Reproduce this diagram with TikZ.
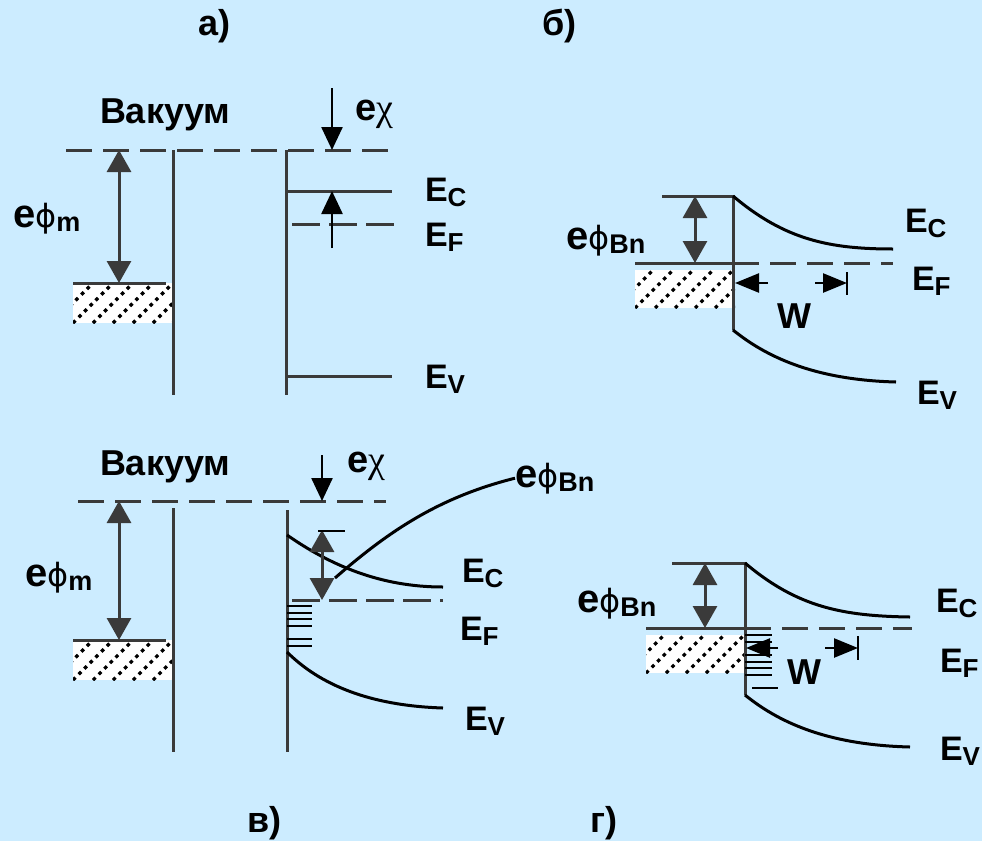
\documentclass[tikz,border=0pt]{standalone}
\usepackage{fontspec}
\setmainfont{Liberation Sans}
\newfontfamily\grk{DejaVu Sans}
\newfontfamily\grs{Liberation Serif}
\usetikzlibrary{arrows.meta}
\definecolor{bg}{RGB}{204,236,255}
\definecolor{ln}{RGB}{58,58,58}
\newcommand\lblE[1]{{\fontsize{34}{34}\selectfont\bfseries E\raisebox{-5pt}{\fontsize{26}{26}\selectfont #1}}}
\newcommand\lblphi[1]{{\fontsize{40}{40}\selectfont\bfseries e}{\grk\fontsize{32}{32}\selectfont ϕ}\raisebox{-4pt}{\fontsize{27}{27}\selectfont\bfseries #1}}
\newcommand\lblchi{{\fontsize{38}{38}\selectfont\bfseries e}{\grs\fontsize{38}{38}\selectfont χ}}
\newcommand\bigf{\fontsize{36}{36}\selectfont\bfseries}
\newcommand\hatchbox[4]{%
  \begin{scope}
    \clip (#1,#2) rectangle (#3,#4);
    \fill[white] (#1,#2) rectangle (#3,#4);
    \foreach \k in {-60,-40,...,120}
      \draw[black,line width=3.2pt,dash pattern=on 3.5pt off 4.5pt] (#1+\k,#4) -- ++(55,-55);
  \end{scope}}
\tikzset{
  lbl/.style={anchor=base west,inner sep=0pt,outer sep=0pt},
  solidln/.style={ln,line width=3pt},
  curveln/.style={black,line width=3pt},
  dashln/.style={ln,line width=3pt,dash pattern=on 26pt off 11pt},
  dblarrow/.style={ln,line width=3pt,{Triangle[width=24pt,length=22pt]}-{Triangle[width=24pt,length=22pt]}},
  chiarrow/.style={black,line width=2.5pt,-{Triangle[width=21pt,length=23pt]}},
  warrow/.style={black,line width=2.5pt,-{Triangle[width=19pt,length=24pt]}},
}
\begin{document}
\begin{tikzpicture}[x=1pt,y=-1pt]
\fill[bg] (0,0) rectangle (982,841);
\useasboundingbox (0,0) rectangle (982,841);
% ---------- panel a ----------
\node[lbl] (la) at (198,35) {\bigf а)};
\node[lbl] (vaca) at (100,123) {\bigf Вакуум};
\node[lbl] (chia) at (355,120) {\lblchi};
\node[lbl] (phia) at (13,227) {\lblphi{m}};
\node[lbl] (eca) at (425,201) {\lblE{C}};
\node[lbl] (efa) at (425,246) {\lblE{F}};
\node[lbl] (eva) at (425,388) {\lblE{V}};
\hatchbox{73}{283}{173}{323}
\coordinate (a-vl) at (66,150); \coordinate (a-vr) at (390,150);
\coordinate (a-mt) at (173,150); \coordinate (a-mb) at (173,395);
\coordinate (a-st) at (286,150); \coordinate (a-sb) at (286,395);
\coordinate (a-cl) at (286,191); \coordinate (a-cr) at (392,191);
\coordinate (a-fl) at (292,224); \coordinate (a-fr) at (397,224);
\coordinate (a-vbl) at (286,376); \coordinate (a-vbr) at (392,376);
\coordinate (a-ml) at (73,283); \coordinate (a-mr) at (166,283);
\draw[dashln] (a-vl) -- (a-vr);
\draw[solidln] (a-mt) -- (a-mb);
\draw[solidln] (a-st) -- (a-sb);
\draw[solidln] (a-cl) -- (a-cr);
\draw[dashln,dash pattern=on 28pt off 9pt] (a-fl) -- (a-fr);
\draw[solidln] (a-vbl) -- (a-vbr);
\draw[solidln] (a-ml) -- (a-mr);
\coordinate (a-p1) at (119,150); \coordinate (a-p2) at (119,283);
\draw[dblarrow] (a-p1) -- (a-p2);
\coordinate (a-x1) at (332,88); \coordinate (a-x2) at (332,150);
\draw[chiarrow] (a-x1) -- (a-x2);
\coordinate (a-y1) at (332,248); \coordinate (a-y2) at (332,191);
\draw[chiarrow] (a-y1) -- (a-y2);
% ---------- panel b ----------
\node[lbl] (lb) at (542,35) {\bigf б)};
\node[lbl] (phib) at (566,249) {\lblphi{Bn}};
\node[lbl] (ecb) at (905,232) {\lblE{C}};
\node[lbl] (efb) at (912,290) {\lblE{F}};
\node[lbl] (evb) at (917,404) {\lblE{V}};
\node[lbl] (wb) at (777,328) {\bigf W};
\hatchbox{635}{270}{735}{308}
\coordinate (b-tl) at (662,196); \coordinate (b-tr) at (733,196);
\coordinate (b-bot) at (733,330);
\coordinate (b-ce) at (893,249); \coordinate (b-ve) at (896,382);
\coordinate (b-fl) at (635,263); \coordinate (b-fm) at (733,263); \coordinate (b-fr) at (893,263);
\draw[solidln] (b-tl) -- (b-tr) -- (b-bot);
\draw[curveln] (b-tr) .. controls (785,240) and (830,249) .. (b-ce);
\draw[curveln] (b-bot) .. controls (770,360) and (820,380) .. (b-ve);
\draw[solidln] (b-fl) -- (b-fm);
\draw[dashln] (b-fm) -- (b-fr);
\coordinate (b-p1) at (695,196); \coordinate (b-p2) at (695,263);
\draw[dblarrow] (b-p1) -- (b-p2);
\coordinate (b-w1) at (768,283); \coordinate (b-w2) at (735,283);
\coordinate (b-w3) at (815,283); \coordinate (b-w4) at (847,283);
\draw[warrow] (b-w1) -- (b-w2);
\draw[warrow] (b-w3) -- (b-w4);
\draw[black,line width=2.5pt] (847,272) -- (847,295);
% ---------- panel c ----------
\node[lbl] (lc) at (247,832) {\bigf в)};
\node[lbl] (vacc) at (100,475) {\bigf Вакуум};
\node[lbl] (chic) at (347,472) {\lblchi};
\node[lbl] (phic) at (25,586) {\lblphi{m}};
\node[lbl] (phic2) at (515,487) {\lblphi{Bn}};
\node[lbl] (ecc) at (462,582) {\lblE{C}};
\node[lbl] (efc) at (460,640) {\lblE{F}};
\node[lbl] (evc) at (465,730) {\lblE{V}};
\hatchbox{73}{640}{173}{680}
\coordinate (c-vl) at (78,501); \coordinate (c-vr) at (386,501);
\coordinate (c-mt) at (173,508); \coordinate (c-mb) at (173,752);
\coordinate (c-st) at (287,510); \coordinate (c-sb) at (287,752);
\coordinate (c-ml) at (73,640); \coordinate (c-mr) at (166,640);
\coordinate (c-cs) at (287,535); \coordinate (c-ce) at (443,587);
\coordinate (c-vs) at (287,652); \coordinate (c-ve) at (443,708);
\coordinate (c-fl) at (292,600); \coordinate (c-fr) at (443,600);
\draw[dashln] (c-vl) -- (c-vr);
\draw[solidln] (c-mt) -- (c-mb);
\draw[solidln] (c-st) -- (c-sb);
\draw[solidln] (c-ml) -- (c-mr);
\draw[curveln] (c-cs) .. controls (330,565) and (380,587) .. (c-ce);
\draw[curveln] (c-vs) .. controls (325,690) and (380,706) .. (c-ve);
\draw[dashln,dash pattern=on 28pt off 9pt] (c-fl) -- (c-fr);
\foreach \yy in {606,613,619,626,639,646}
  \draw[black,line width=2.5pt] (287,\yy) -- (312,\yy);
\coordinate (c-p1) at (119,501); \coordinate (c-p2) at (119,640);
\draw[dblarrow] (c-p1) -- (c-p2);
\coordinate (c-q1) at (322,530); \coordinate (c-q2) at (322,600);
\draw[dblarrow] (c-q1) -- (c-q2);
\draw[black,line width=2.5pt] (318,531) -- (345,531);
\coordinate (c-x1) at (322,455); \coordinate (c-x2) at (322,501);
\draw[chiarrow] (c-x1) -- (c-x2);
\coordinate (c-b1) at (335,578);
\draw[curveln] (c-b1) .. controls (390,530) and (440,497) .. (phic2.west);
% ---------- panel d ----------
\node[lbl] (ld) at (590,832) {\bigf г)};
\node[lbl] (phid) at (577,612) {\lblphi{Bn}};
\node[lbl] (ecd) at (936,612) {\lblE{C}};
\node[lbl] (efd) at (940,672) {\lblE{F}};
\node[lbl] (evd) at (940,760) {\lblE{V}};
\node[lbl] (wd) at (787,684) {\bigf W};
\hatchbox{646}{635}{745}{673}
\coordinate (d-tl) at (672,563); \coordinate (d-tr) at (745,563);
\coordinate (d-bot) at (745,695);
\coordinate (d-ce) at (910,617); \coordinate (d-ve) at (910,747);
\coordinate (d-fl) at (646,628); \coordinate (d-fm) at (745,628); \coordinate (d-fr) at (912,628);
\draw[solidln] (d-tl) -- (d-tr) -- (d-bot);
\draw[curveln] (d-tr) .. controls (797,607) and (842,616) .. (d-ce);
\draw[curveln] (d-bot) .. controls (782,725) and (832,745) .. (d-ve);
\draw[solidln] (d-fl) -- (d-fm);
\draw[dashln] (d-fm) -- (d-fr);
\foreach \yy in {635,642,655,662,668,675}
  \draw[black,line width=2.5pt] (745,\yy) -- (772,\yy);
\draw[black,line width=2.5pt] (752,688) -- (778,688);
\coordinate (d-p1) at (705,563); \coordinate (d-p2) at (705,628);
\draw[dblarrow] (d-p1) -- (d-p2);
\coordinate (d-w1) at (778,648); \coordinate (d-w2) at (746,648);
\coordinate (d-w3) at (825,648); \coordinate (d-w4) at (858,648);
\draw[warrow] (d-w1) -- (d-w2);
\draw[warrow] (d-w3) -- (d-w4);
\draw[black,line width=2.5pt] (858,636) -- (858,660);
\end{tikzpicture}
\end{document}
